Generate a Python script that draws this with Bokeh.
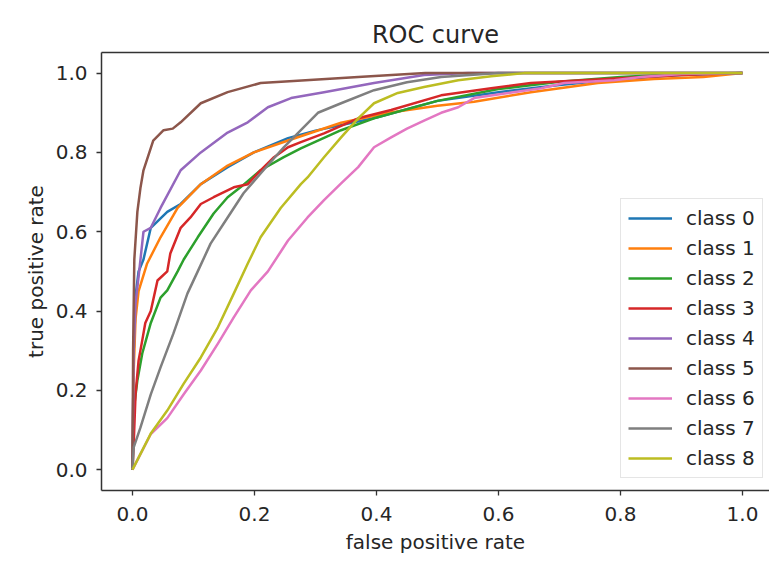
from bokeh.plotting import figure
from bokeh.models import (Range1d, LinearAxis, FixedTicker, Legend, LegendItem,
                          PrintfTickFormatter)
from bokeh.embed import file_html
from bokeh.resources import INLINE

colors = ["#1f77b4", "#ff7f0e", "#2ca02c", "#d62728", "#9467bd",
          "#8c564b", "#e377c2", "#7f7f7f", "#bcbd22"]
labels = ["class 0", "class 1", "class 2", "class 3", "class 4",
          "class 5", "class 6", "class 7", "class 8"]

fpr0 = [0, 0.002, 0.006, 0.01, 0.018, 0.03, 0.057, 0.079, 0.112, 0.156, 0.199, 0.255, 0.3, 0.4, 0.5, 0.6, 0.7, 0.8, 0.9, 1.0]
tpr0 = [0, 0.3, 0.45, 0.5, 0.53, 0.61, 0.65, 0.67, 0.72, 0.763, 0.80, 0.836, 0.855, 0.888, 0.93, 0.952, 0.97, 0.985, 0.995, 1.0]

fpr1 = [0, 0.002, 0.005, 0.01, 0.024, 0.046, 0.074, 0.112, 0.156, 0.199, 0.255, 0.342, 0.42, 0.5, 0.56, 0.653, 0.763, 0.855, 0.936, 1.0]
tpr1 = [0, 0.25, 0.38, 0.45, 0.52, 0.586, 0.66, 0.72, 0.767, 0.80, 0.83, 0.875, 0.9, 0.918, 0.928, 0.952, 0.975, 0.985, 0.99, 1.0]

fpr2 = [0, 0.002, 0.008, 0.016, 0.03, 0.046, 0.057, 0.074, 0.084, 0.107, 0.133, 0.156, 0.177, 0.21, 0.248, 0.276, 0.342, 0.396, 0.5, 0.6, 0.7, 0.8, 0.9, 1.0]
tpr2 = [0, 0.15, 0.225, 0.293, 0.37, 0.434, 0.452, 0.50, 0.53, 0.586, 0.646, 0.687, 0.712, 0.755, 0.788, 0.81, 0.856, 0.886, 0.93, 0.96, 0.978, 0.99, 0.998, 1.0]

fpr3 = [0, 0.002, 0.005, 0.01, 0.016, 0.021, 0.03, 0.041, 0.057, 0.062, 0.079, 0.095, 0.112, 0.133, 0.166, 0.189, 0.21, 0.232, 0.255, 0.276, 0.314, 0.37, 0.424, 0.506, 0.588, 0.653, 0.8, 0.9, 1.0]
tpr3 = [0, 0.066, 0.19, 0.275, 0.326, 0.37, 0.40, 0.477, 0.50, 0.545, 0.61, 0.636, 0.67, 0.687, 0.712, 0.72, 0.755, 0.788, 0.813, 0.826, 0.848, 0.886, 0.907, 0.944, 0.962, 0.975, 0.987, 0.995, 1.0]

fpr4 = [0, 0.002, 0.005, 0.011, 0.018, 0.03, 0.046, 0.079, 0.112, 0.156, 0.189, 0.222, 0.26, 0.314, 0.396, 0.478, 0.55, 0.7, 1.0]
tpr4 = [0, 0.3, 0.42, 0.5, 0.6, 0.61, 0.66, 0.755, 0.80, 0.85, 0.876, 0.914, 0.937, 0.952, 0.975, 0.995, 1.0, 1.0, 1.0]

fpr5 = [0, 0.001, 0.003, 0.008, 0.013, 0.018, 0.034, 0.051, 0.066, 0.079, 0.112, 0.156, 0.21, 0.264, 0.37, 0.48, 0.6, 1.0]
tpr5 = [0, 0.3, 0.53, 0.65, 0.71, 0.755, 0.83, 0.856, 0.86, 0.876, 0.924, 0.952, 0.975, 0.98, 0.99, 1.0, 1.0, 1.0]

fpr6 = [0, 0.03, 0.057, 0.084, 0.112, 0.14, 0.166, 0.194, 0.222, 0.255, 0.287, 0.314, 0.342, 0.37, 0.396, 0.424, 0.45, 0.478, 0.506, 0.534, 0.56, 0.616, 0.67, 0.708, 0.79, 0.834, 0.9, 1.0]
tpr6 = [0, 0.09, 0.13, 0.19, 0.25, 0.318, 0.384, 0.452, 0.50, 0.578, 0.636, 0.68, 0.722, 0.763, 0.813, 0.838, 0.86, 0.88, 0.90, 0.914, 0.937, 0.95, 0.962, 0.975, 0.982, 0.99, 0.998, 1.0]

fpr7 = [0, 0.002, 0.013, 0.03, 0.046, 0.067, 0.09, 0.107, 0.128, 0.156, 0.182, 0.21, 0.248, 0.276, 0.304, 0.342, 0.396, 0.45, 0.506, 0.6, 1.0]
tpr7 = [0, 0.056, 0.106, 0.19, 0.258, 0.343, 0.444, 0.50, 0.57, 0.636, 0.697, 0.747, 0.813, 0.856, 0.90, 0.924, 0.957, 0.977, 0.99, 1.0, 1.0]

fpr8 = [0, 0.03, 0.057, 0.084, 0.112, 0.14, 0.166, 0.189, 0.21, 0.243, 0.276, 0.287, 0.314, 0.342, 0.37, 0.396, 0.435, 0.478, 0.534, 0.588, 0.642, 1.0]
tpr8 = [0, 0.091, 0.149, 0.217, 0.283, 0.359, 0.444, 0.52, 0.586, 0.66, 0.72, 0.737, 0.788, 0.838, 0.886, 0.924, 0.95, 0.965, 0.982, 0.992, 1.0, 1.0]

x_ticks = [0.0, 0.2, 0.4, 0.6, 0.8, 1.0]
y_ticks = [0.0, 0.2, 0.4, 0.6, 0.8, 1.0]

fprs = [fpr0, fpr1, fpr2, fpr3, fpr4, fpr5, fpr6, fpr7, fpr8]
tprs = [tpr0, tpr1, tpr2, tpr3, tpr4, tpr5, tpr6, tpr7, tpr8]

FONT = "DejaVu Sans"
TXT = "#262626"
AX = "#333333"

p = figure(width=769, height=562, output_backend="svg", toolbar_location=None,
           x_range=Range1d(-0.0508, 1.0443), y_range=Range1d(-0.0525, 1.052),
           min_border_left=101, min_border_right=0, min_border_top=52, min_border_bottom=72,
           title="ROC curve")
p.outline_line_color = None
p.grid.visible = False
p.background_fill_color = "white"
p.border_fill_color = "white"

p.title.text_font = FONT
p.title.text_font_size = "24px"
p.title.text_font_style = "normal"
p.title.text_color = TXT
p.title.align = "center"
p.title.standoff = 8

for ax, ticks in ((p.xaxis[0], x_ticks), (p.yaxis[0], y_ticks)):
    ax.ticker = FixedTicker(ticks=ticks)
    ax.formatter = PrintfTickFormatter(format="%.1f")
    ax.minor_tick_line_color = None
    ax.major_tick_in = 0
    ax.major_tick_out = 5
    ax.major_tick_line_color = AX
    ax.major_tick_line_width = 1.3
    ax.axis_line_color = AX
    ax.axis_line_width = 1.5
    ax.major_label_text_font = FONT
    ax.major_label_text_font_size = "20px"
    ax.major_label_text_color = TXT
    ax.axis_label_text_font = FONT
    ax.axis_label_text_font_size = "20px"
    ax.axis_label_text_font_style = "normal"
    ax.axis_label_text_color = TXT

p.xaxis[0].axis_label = "false positive rate"
p.yaxis[0].axis_label = "true positive rate"
p.xaxis[0].major_label_standoff = 11
p.xaxis[0].axis_label_standoff = 6
p.yaxis[0].major_label_standoff = 9
p.yaxis[0].axis_label_standoff = 5

top = LinearAxis(ticker=FixedTicker(ticks=[]), axis_line_color=AX, axis_line_width=1.5,
                 major_tick_line_color=None, minor_tick_line_color=None)
p.add_layout(top, "above")

items = []
for i in range(9):
    r = p.line(fprs[i], tprs[i], line_color=colors[i], line_width=2.5, line_join="round")
    items.append(LegendItem(label=labels[i], renderers=[r]))

legend = Legend(items=items, location=(519, 12))
legend.label_text_font = FONT
legend.label_text_font_size = "20px"
legend.label_text_color = TXT
legend.glyph_width = 44
legend.glyph_height = 24
legend.label_height = 24
legend.spacing = 6
legend.padding = 7
legend.margin = 0
legend.label_standoff = 14
legend.border_line_color = "#cccccc"
legend.border_line_width = 1
legend.background_fill_color = "white"
legend.background_fill_alpha = 0.9
p.add_layout(legend, "center")

open("out.html", "w").write(file_html(p, INLINE))
